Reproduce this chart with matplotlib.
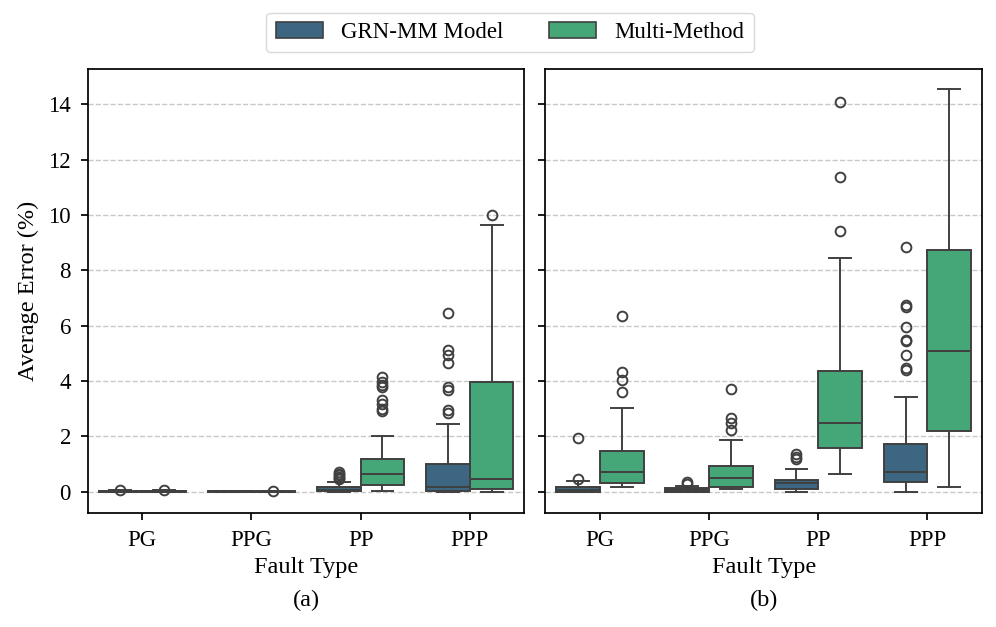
import matplotlib
matplotlib.use('Agg')
import matplotlib.pyplot as plt
from matplotlib.patches import Patch
import numpy as np
import seaborn as sns

plt.rcParams['font.family'] = ['Liberation Serif', 'DejaVu Serif']

fault_types = ['PG', 'PPG', 'PP', 'PPP']
methods = ['GRN-MM Model', 'Multi-Method']

# panel (a): box stats
a_grn_q1 = [0.01, 0.01, 0.02, 0.02]
a_grn_med = [0.03, 0.02, 0.06, 0.19]
a_grn_q3 = [0.04, 0.03, 0.17, 1.01]
a_grn_lo = [0.0, 0.0, 0.0, 0.0]
a_grn_hi = [0.06, 0.04, 0.34, 2.45]
a_grn_out = [[0.07], [], [0.45, 0.5, 0.55, 0.6, 0.65, 0.7],
             [6.47, 5.12, 4.94, 4.64, 3.78, 3.66, 2.96, 2.84]]

a_mm_q1 = [0.01, 0.0, 0.25, 0.11]
a_mm_med = [0.02, 0.01, 0.64, 0.47]
a_mm_q3 = [0.04, 0.02, 1.19, 3.98]
a_mm_lo = [0.0, 0.0, 0.04, 0.0]
a_mm_hi = [0.05, 0.03, 2.0, 9.64]
a_mm_out = [[0.07], [0.04], [4.16, 3.98, 3.85, 3.78, 3.32, 3.18, 2.98, 2.92], [10.0]]

# panel (b)
b_grn_q1 = [0.0, 0.0, 0.11, 0.34]
b_grn_med = [0.07, 0.06, 0.31, 0.72]
b_grn_q3 = [0.19, 0.13, 0.43, 1.73]
b_grn_lo = [0.0, 0.0, 0.0, 0.0]
b_grn_hi = [0.40, 0.22, 0.83, 3.42]
b_grn_out = [[0.47, 1.94], [0.30, 0.35], [1.18, 1.25, 1.36],
             [8.85, 6.75, 6.69, 5.94, 5.5, 5.45, 4.94, 4.46, 4.40]]

b_mm_q1 = [0.31, 0.19, 1.58, 2.20]
b_mm_med = [0.70, 0.49, 2.50, 5.10]
b_mm_q3 = [1.48, 0.94, 4.38, 8.73]
b_mm_lo = [0.19, 0.11, 0.65, 0.19]
b_mm_hi = [3.03, 1.88, 8.46, 14.53]
b_mm_out = [[6.35, 4.31, 4.04, 3.60], [3.70, 2.66, 2.50, 2.24], [14.09, 11.36, 9.41], []]

pal = [sns.desaturate(c, 0.75) for c in sns.color_palette('viridis', 2)]
line_color = '#404040'


def make_stats(q1, med, q3, lo, hi, out):
    return [dict(q1=q1[i], med=med[i], q3=q3[i], whislo=lo[i], whishi=hi[i],
                 fliers=out[i]) for i in range(len(q1))]


panels = [
    [make_stats(a_grn_q1, a_grn_med, a_grn_q3, a_grn_lo, a_grn_hi, a_grn_out),
     make_stats(a_mm_q1, a_mm_med, a_mm_q3, a_mm_lo, a_mm_hi, a_mm_out)],
    [make_stats(b_grn_q1, b_grn_med, b_grn_q3, b_grn_lo, b_grn_hi, b_grn_out),
     make_stats(b_mm_q1, b_mm_med, b_mm_q3, b_mm_lo, b_mm_hi, b_mm_out)],
]

fig, axes = plt.subplots(1, 2, figsize=(9.96, 6.27), dpi=100, sharey=True)
fig.subplots_adjust(left=0.088, right=0.986, top=0.89, bottom=0.182, wspace=0.048)

w = 0.4
for k, ax in enumerate(axes):
    for j, stats in enumerate(panels[k]):
        pos = np.arange(len(fault_types)) + (j - 0.5) * w
        ax.bxp(stats, positions=pos, widths=w, capwidths=w * 0.5, patch_artist=True,
               manage_ticks=False,
               boxprops=dict(facecolor=pal[j], edgecolor=line_color, linewidth=1.4),
               medianprops=dict(color=line_color, linewidth=1.4),
               whiskerprops=dict(color=line_color, linewidth=1.4),
               capprops=dict(color=line_color, linewidth=1.4),
               flierprops=dict(marker='o', markerfacecolor='none', markeredgecolor=line_color,
                               markersize=7, markeredgewidth=1.4))
    ax.set_xticks(np.arange(len(fault_types)))
    ax.set_xticklabels(fault_types)
    ax.set_xlim(-0.5, len(fault_types) - 0.5)
    ax.set_yticks(np.arange(0, 15, 2))
    ax.grid(axis='y', linestyle='--', color='#c8c8c8', linewidth=1)
    ax.set_axisbelow(True)
    ax.tick_params(labelsize=16.5, width=1.25, length=5, pad=7)
    for s in ax.spines.values():
        s.set_linewidth(1.25)
        s.set_color('black')
    ax.set_xlabel('Fault Type', fontsize=17.5, labelpad=5)
    ax.text(0.5, -0.198, '(a)' if k == 0 else '(b)', transform=ax.transAxes,
            ha='center', va='center', fontsize=17.5)

axes[0].set_ylabel('Average Error (%)', fontsize=17.5, labelpad=7)
axes[0].set_ylim(-0.76, 15.27)

handles = [Patch(facecolor=pal[j], edgecolor=line_color, linewidth=1.2, label=methods[j])
           for j in range(2)]
fig.legend(handles=handles, loc='upper center', bbox_to_anchor=(0.512, 0.98), ncol=2,
           fontsize=16.5, frameon=True, edgecolor='#d0d0d0', handlelength=2.05,
           handleheight=0.74, columnspacing=2.0, handletextpad=0.8,
           borderaxespad=0.0)

fig.savefig('out.png', dpi=100)
